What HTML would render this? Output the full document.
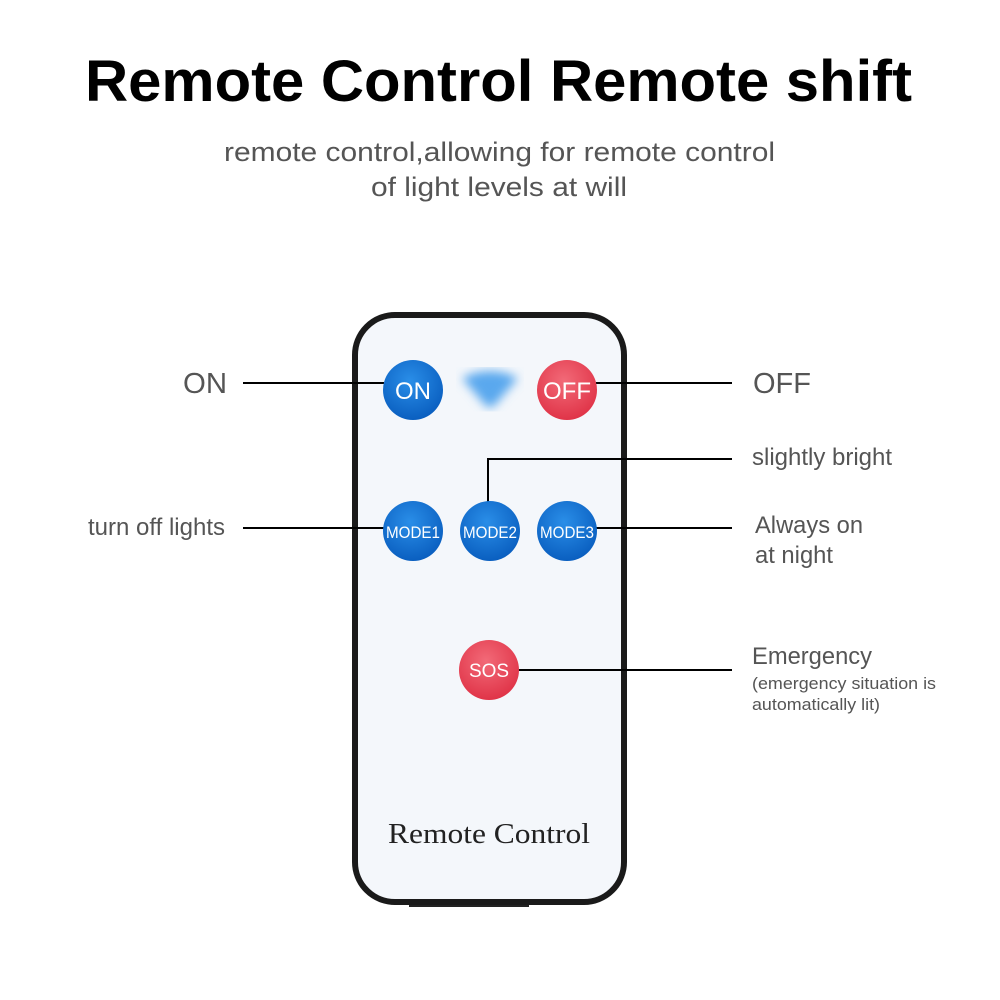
<!DOCTYPE html>
<html><head><style>
body{margin:0;background:#fff;}
svg{display:block;}
</style></head><body>
<svg width="1000" height="1000" viewBox="0 0 1000 1000" xmlns="http://www.w3.org/2000/svg">
<defs>
<radialGradient id="b" cx="45%" cy="35%" r="65%"><stop offset="0" stop-color="#2a8ee8"/><stop offset="1" stop-color="#0a5fc0"/></radialGradient>
<radialGradient id="r" cx="45%" cy="35%" r="65%"><stop offset="0" stop-color="#f26a78"/><stop offset="1" stop-color="#e03448"/></radialGradient>
<filter id="bl"><feGaussianBlur stdDeviation="5"/></filter>
</defs>
<text x="85" y="101" font-family="Liberation Sans" font-weight="bold" font-size="58" fill="#000" textLength="827" lengthAdjust="spacingAndGlyphs">Remote Control Remote shift</text>
<text x="224" y="161" font-family="Liberation Sans" font-size="27" fill="#555" textLength="551" lengthAdjust="spacingAndGlyphs">remote control,allowing for remote control</text>
<text x="371" y="196" font-family="Liberation Sans" font-size="27" fill="#555" textLength="256" lengthAdjust="spacingAndGlyphs">of light levels at will</text>
<rect x="409" y="895" width="120" height="12" fill="#222"/>
<rect x="355" y="315" width="269" height="587" rx="40" fill="#f4f7fb" stroke="#1a1a1a" stroke-width="6"/>
<path d="M462 378 Q490 364 518 378 L495 405 Q490 410 485 405 Z" fill="#5aa8ee" filter="url(#bl)"/>
<g stroke="#000" stroke-width="2" fill="none">
<path d="M243 383H384M596 383H732M243 528H384M596 528H732M518 670H732M488 502V459H732"/>
</g>
<g font-family="Liberation Sans" fill="#fff" text-anchor="middle">
<circle cx="413" cy="390" r="30" fill="url(#b)"/><text x="413" y="399" font-size="24">ON</text>
<circle cx="567" cy="390" r="30" fill="url(#r)"/><text x="567" y="399" font-size="24">OFF</text>
<circle cx="413" cy="531" r="30" fill="url(#b)"/><text x="413" y="538" font-size="17" textLength="54" lengthAdjust="spacingAndGlyphs">MODE1</text>
<circle cx="490" cy="531" r="30" fill="url(#b)"/><text x="490" y="538" font-size="17" textLength="54" lengthAdjust="spacingAndGlyphs">MODE2</text>
<circle cx="567" cy="531" r="30" fill="url(#b)"/><text x="567" y="538" font-size="17" textLength="54" lengthAdjust="spacingAndGlyphs">MODE3</text>
<circle cx="489" cy="670" r="30" fill="url(#r)"/><text x="489" y="677" font-size="19">SOS</text>
</g>
<text x="388" y="843" font-family="Liberation Serif" font-size="28" fill="#222" textLength="202" lengthAdjust="spacingAndGlyphs">Remote Control</text>
<g font-family="Liberation Sans" fill="#555">
<text x="183" y="393" font-size="29" textLength="44" lengthAdjust="spacingAndGlyphs">ON</text>
<text x="753" y="393" font-size="29" textLength="58" lengthAdjust="spacingAndGlyphs">OFF</text>
<text x="752" y="465" font-size="24" textLength="140" lengthAdjust="spacingAndGlyphs">slightly bright</text>
<text x="88" y="535" font-size="24" textLength="137" lengthAdjust="spacingAndGlyphs">turn off lights</text>
<text x="755" y="533" font-size="24" textLength="108" lengthAdjust="spacingAndGlyphs">Always on</text>
<text x="755" y="563" font-size="24" textLength="78" lengthAdjust="spacingAndGlyphs">at night</text>
<text x="752" y="664" font-size="24" textLength="120" lengthAdjust="spacingAndGlyphs">Emergency</text>
<text x="752" y="689" font-size="17" textLength="184" lengthAdjust="spacingAndGlyphs">(emergency situation is</text>
<text x="752" y="710" font-size="17" textLength="128" lengthAdjust="spacingAndGlyphs">automatically lit)</text>
</g>
</svg>
</body></html>
